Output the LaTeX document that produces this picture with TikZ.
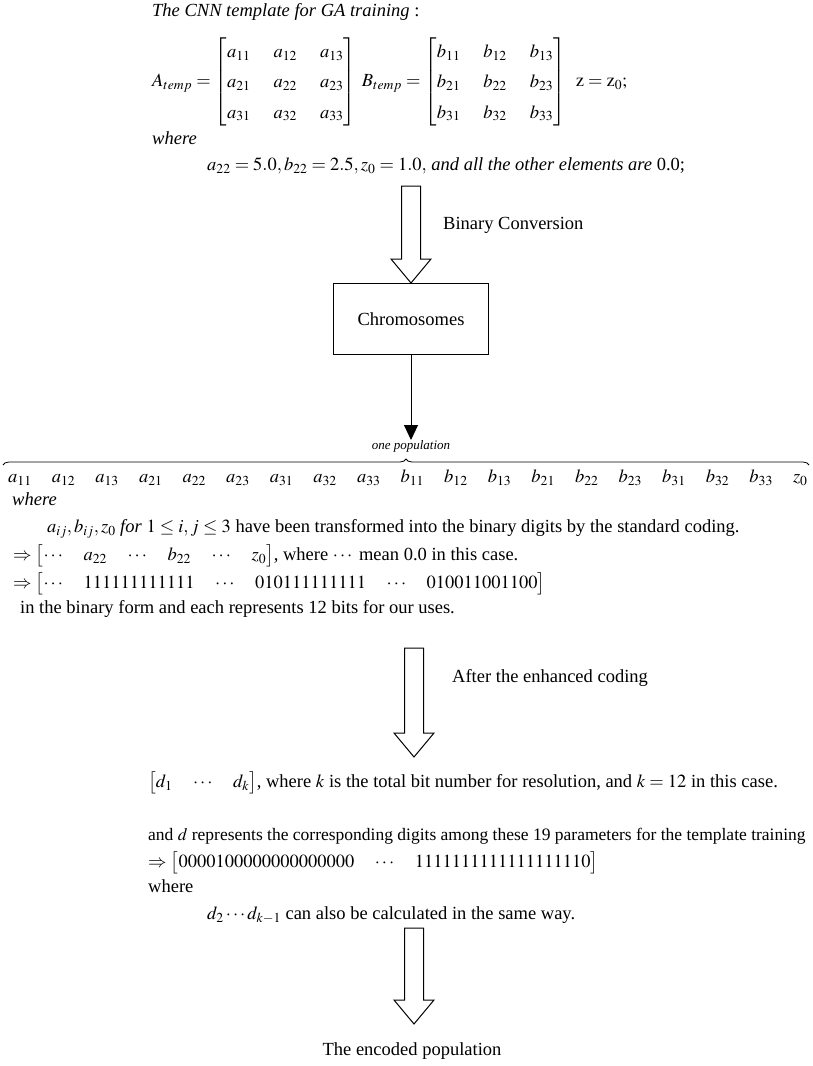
\documentclass[tikz,border=0pt]{standalone}
\usepackage{amsmath}
\usepackage{mathptmx}
\usepackage{fontspec}
\setmainfont{Liberation Serif}
\usetikzlibrary{positioning,calc,arrows.meta,decorations.pathreplacing}

\tikzset{
  txt/.style={anchor=mid west, inner sep=0pt},
  hollow/.style={draw, line width=1pt, line join=miter,
    to path={let \p1=(\tikztostart), \p2=(\tikztotarget) in
      (\x1-9.5pt,\y1) -- (\x1-9.5pt,\y2+24pt) -- (\x1-20pt,\y2+24pt) -- (\x1,\y2)
      -- (\x1+20pt,\y2+24pt) -- (\x1+9.5pt,\y2+24pt) -- (\x1+9.5pt,\y1) -- cycle}},
}

\begin{document}
\begin{tikzpicture}[x=1pt,y=1pt,>=Latex,font=\fontsize{18.5}{22}\selectfont]
\useasboundingbox (0,0) rectangle (812,-1066);
% Template
\node[txt] (title) at (152,-14) {\textit{The CNN template for GA training} :};
\node[txt] (tmpl) at (152,-84) {\setlength\arraycolsep{11.5pt}\renewcommand\arraystretch{1.38}%
  $A_{temp}=\begin{bmatrix} a_{11} & a_{12} & a_{13}\\ a_{21} & a_{22} & a_{23}\\ a_{31} & a_{32} & a_{33}\end{bmatrix}\;
   B_{temp}=\begin{bmatrix} b_{11} & b_{12} & b_{13}\\ b_{21} & b_{22} & b_{23}\\ b_{31} & b_{32} & b_{33}\end{bmatrix}\;\;
   \mathrm{z}=\mathrm{z}_0;$};
\node[txt] (where1) at (152,-142) {\textit{where}};
\node[txt] (vals) at (207,-168) {$a_{22}=5.0, b_{22}=2.5, z_0=1.0,$ \textit{and all the other elements are} 0.0;};

% Binary conversion
\coordinate (a1top) at (411,-186);
\node[draw, line width=1pt, minimum width=155pt, minimum height=71pt] (chrom) at (411,-319) {Chromosomes};
\draw[hollow] (a1top) to (chrom.north);
\node[txt] (binconv) at (443,-227) {Binary Conversion};

% One population
\coordinate (pop) at (411,-440);
\draw[-{Triangle[length=15pt,width=14pt]}, line width=1pt] (chrom.south) -- (pop);
\node[font=\fontsize{13}{15}\selectfont\itshape, inner sep=0pt, anchor=mid] (onepop) at (411,-447) {one population};
\coordinate (bl) at (3,-465);
\coordinate (br) at (809,-465);
\draw[decorate, decoration={brace, amplitude=6pt}, line width=0.8pt] (bl) -- (br);
\foreach \e [count=\i from 0] in {a_{11},a_{12},a_{13},a_{21},a_{22},a_{23},a_{31},a_{32},a_{33},
    b_{11},b_{12},b_{13},b_{21},b_{22},b_{23},b_{31},b_{32},b_{33},z_0}
  \node[txt] (e\i) at (8+43.6*\i,-480) {$\e$};

\node[txt] (where2) at (12,-503) {\textit{where}};
\node[txt] (trans) at (47,-530) {$a_{ij},b_{ij},z_0$ \textit{for} $1\le i,j\le 3$ have been transformed into the binary digits by the standard coding.};
\node[txt] (vec1) at (13,-558) {$\Rightarrow\bigl[\cdots\quad a_{22}\quad\cdots\quad b_{22}\quad\cdots\quad z_0\bigr]$, where $\cdots$ mean 0.0 in this case.};
\node[txt] (vec2) at (13,-586) {$\Rightarrow\bigl[\cdots\quad \mathrm{111111111111}\quad\cdots\quad \mathrm{010111111111}\quad\cdots\quad \mathrm{010011001100}\bigr]$};
\node[txt] (form) at (20,-611) {in the binary form and each represents 12 bits for our uses.};

% Enhanced coding
\coordinate (a2top) at (414,-648);
\coordinate (a2tip) at (414,-757);
\draw[hollow] (a2top) to (a2tip);
\node[txt] (enh) at (452,-680) {After the enhanced coding};
\node[txt] (dvec) at (148,-785) {$\bigl[d_1\quad\cdots\quad d_k\bigr]$, where $k$ is the total bit number for resolution, and $k=12$ in this case.};
\node[txt, font=\fontsize{17.5}{21}\selectfont] (ddef) at (148,-838) {and $d$ represents the corresponding digits among these 19 parameters for the template training};
\node[txt] (dbits) at (148,-865) {$\Rightarrow\bigl[\mathrm{0000100000000000000}\quad\cdots\quad\mathrm{1111111111111111110}\bigr]$};
\node[txt] (where3) at (148,-890) {where};
\node[txt] (dmid) at (207,-917) {$d_2\cdots d_{k-1}$ can also be calculated in the same way.};

% Encoded population
\coordinate (a3top) at (414,-928);
\coordinate (a3tip) at (414,-1024);
\draw[hollow] (a3top) to (a3tip);
\node[inner sep=0pt, anchor=mid] (encpop) at (412,-1053) {The encoded population};
\end{tikzpicture}
\end{document}
